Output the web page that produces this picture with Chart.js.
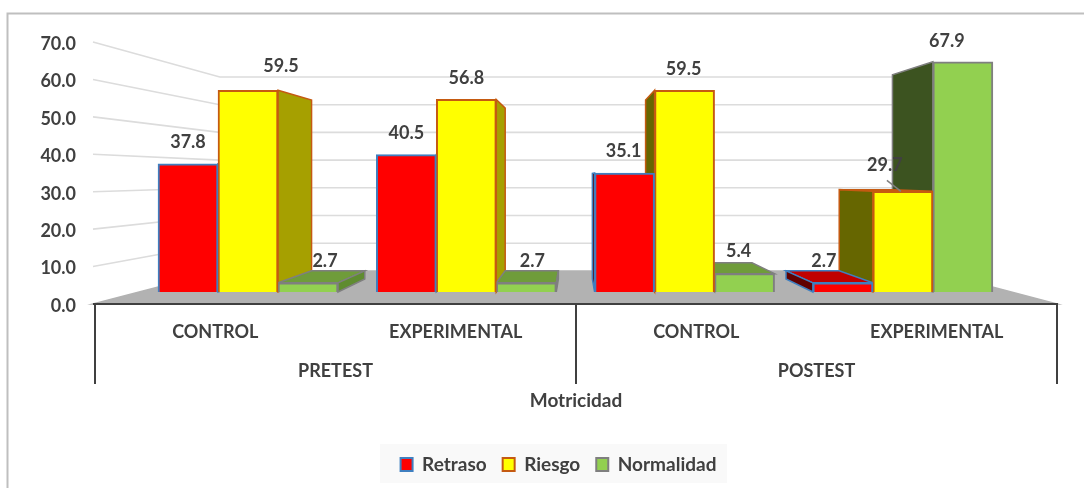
<!DOCTYPE html>
<html lang="es">
<head>
<meta charset="utf-8">
<title>Motricidad</title>
<script src="https://cdn.jsdelivr.net/npm/chart.js@4"></script>
<style>
    html, body { margin: 0; padding: 0; background: #fff; }
    canvas { display: block; }
</style>
</head>
<body>
<canvas id="chart" width="1084" height="488"></canvas>
<script>
const categories = ['CONTROL', 'EXPERIMENTAL', 'CONTROL', 'EXPERIMENTAL'];
const groups = ['PRETEST', 'POSTEST'];
const retraso = [37.8, 40.5, 35.1, 2.7];
const riesgo = [59.5, 56.8, 59.5, 29.7];
const normalidad = [2.7, 2.7, 5.4, 67.9];

const textColor = '#404040';
const font = { family: 'Lato', weight: 'bold', size: 18 };

// perspective of the fake 3D box: everything shrinks towards this point
const vanish = { x: 575, y: 176.7 };
const depth = 0.887;
const wall = 0.74;

// hand placed labels, like in the original (dx, dy from the bar's top centre)
const labelShift = [
    [[0, -22], [33, -24], [17, -22]],
    [[0, -22], [0, -21], [6, -22]],
    [[-1, -22], [-1, -21], [-6, -23]],
    [[-19, -22], [-18, -26], [-16, -21]]
];

function toXY(values) {
    return values.map(function (v, i) { return { x: i, y: v }; });
}

function project(x, y, k) {
    return [vanish.x + (x - vanish.x) * k, vanish.y + (y - vanish.y) * k];
}

function fillPoly(ctx, pts, fill, stroke) {
    ctx.beginPath();
    pts.forEach(function (p, i) {
        if (i === 0) ctx.moveTo(p[0], p[1]); else ctx.lineTo(p[0], p[1]);
    });
    ctx.closePath();
    ctx.fillStyle = fill;
    ctx.fill();
    ctx.lineWidth = 1.5;
    ctx.strokeStyle = stroke;
    ctx.stroke();
}

function drawBox(ctx, bar, ds) {
    const half = bar.width / 2;
    const x0 = bar.x - half, x1 = bar.x + half;
    const top = bar.y, base = bar.base;
    const edge = ds.borderColor;

    // top face only shows below the vanishing point
    if (top > vanish.y) {
        fillPoly(ctx, [[x0, top], [x1, top], project(x1, top, depth), project(x0, top, depth)], ds.topFace, edge);
    }
    if (x1 < vanish.x) {
        fillPoly(ctx, [[x1, top], project(x1, top, depth), project(x1, base, depth), [x1, base]], ds.rightFace, edge);
    } else if (x0 > vanish.x) {
        fillPoly(ctx, [[x0, top], project(x0, top, depth), project(x0, base, depth), [x0, base]], ds.leftFace, edge);
    }
}

const scenePlugin = {
    id: 'scene',
    afterLayout: function (chart) {
        // the legend sits right of the page centre
        chart.legend.left += 30;
        chart.legend.right += 30;
    },
    beforeDraw: function (chart) {
        const ctx = chart.ctx;
        ctx.save();

        // outer frame, only top and left are visible
        ctx.strokeStyle = '#bfbfbf';
        ctx.lineWidth = 2;
        ctx.beginPath();
        ctx.moveTo(7.5, 488);
        ctx.lineTo(7.5, 13.5);
        ctx.lineTo(1084, 13.5);
        ctx.stroke();

        // legend background
        ctx.fillStyle = '#f9f9f9';
        ctx.fillRect(380, 444, 347, 39);
        ctx.restore();
    },
    beforeDatasetsDraw: function (chart) {
        const ctx = chart.ctx;
        const area = chart.chartArea;
        const yScale = chart.scales.y;
        const zero = yScale.getPixelForValue(0);

        ctx.save();

        // floor
        const backL = project(area.left, zero, wall);
        const backR = project(area.right, zero, wall);
        fillPoly(ctx, [[area.left - 2, zero], backL, backR, [area.right, zero]], '#b2b2b2', '#b2b2b2');

        // gridlines: left wall then back wall
        ctx.strokeStyle = '#dcdcdc';
        ctx.lineWidth = 1.6;
        yScale.ticks.forEach(function (t) {
            if (t.value === 0) return;
            const y = yScale.getPixelForValue(t.value);
            const b = project(area.left, y, wall);
            ctx.beginPath();
            ctx.moveTo(area.left - 2, y);
            ctx.lineTo(b[0], b[1]);
            ctx.lineTo(backR[0], b[1]);
            ctx.stroke();
        });

        // axis line and separators
        ctx.strokeStyle = '#404040';
        ctx.lineWidth = 2;
        ctx.beginPath();
        ctx.moveTo(area.left - 2, zero);
        ctx.lineTo(area.right + 1, zero);
        [area.left, (area.left + area.right) / 2, area.right].forEach(function (x) {
            ctx.moveTo(x, zero);
            ctx.lineTo(x, 384);
        });
        ctx.stroke();

        // side faces, furthest from the vanishing point first
        const boxes = [];
        chart.data.datasets.forEach(function (ds, d) {
            chart.getDatasetMeta(d).data.forEach(function (bar) {
                boxes.push({ bar: bar, ds: ds });
            });
        });
        boxes.sort(function (a, b) {
            return Math.abs(b.bar.x - vanish.x) - Math.abs(a.bar.x - vanish.x);
        });
        boxes.forEach(function (b) { drawBox(ctx, b.bar, b.ds); });

        ctx.restore();
    },
    afterDatasetsDraw: function (chart) {
        const ctx = chart.ctx;
        ctx.save();
        ctx.font = font.weight + ' ' + font.size + 'px ' + font.family;
        ctx.fillStyle = textColor;
        ctx.textAlign = 'center';
        ctx.textBaseline = 'middle';
        chart.data.datasets.forEach(function (ds, d) {
            chart.getDatasetMeta(d).data.forEach(function (bar, i) {
                const s = labelShift[i][d];
                ctx.fillText(ds.data[i].y.toFixed(1), bar.x + s[0], bar.y + s[1]);
            });
        });

        // leader line of the moved 29.7 label
        const moved = chart.getDatasetMeta(1).data[3];
        ctx.strokeStyle = '#7f7f7f';
        ctx.lineWidth = 1.5;
        ctx.beginPath();
        ctx.moveTo(moved.x - 16, moved.y - 11);
        ctx.lineTo(moved.x - 2, moved.y);
        ctx.stroke();
        ctx.restore();
    }
};

const ctx = document.getElementById('chart').getContext('2d');
new Chart(ctx, {
    type: 'bar',
    plugins: [scenePlugin],
    data: {
        datasets: [
            {
                label: 'Retraso', data: toXY(retraso), backgroundColor: '#ff0000', borderColor: '#3f7fc0',
                rightFace: '#990000', leftFace: '#600000', topFace: '#c00000'
            },
            {
                label: 'Riesgo', data: toXY(riesgo), backgroundColor: '#ffff00', borderColor: '#c55a11',
                rightFace: '#a6a000', leftFace: '#666600', topFace: '#c9a400'
            },
            {
                label: 'Normalidad', data: toXY(normalidad), backgroundColor: '#92d050', borderColor: '#7f7f7f',
                rightFace: '#5f8c30', leftFace: '#3c5320', topFace: '#6f9c3a'
            }
        ].map(function (ds) {
            return Object.assign(ds, {
                xAxisID: 'xBars', yAxisID: 'yBars', borderWidth: 2, barThickness: 60
            });
        })
    },
    options: {
        responsive: false,
        animation: false,
        layout: { padding: { left: 0, right: 27, top: 42, bottom: 4 } },
        plugins: {
            tooltip: { enabled: false },
            title: { display: false },
            legend: {
                position: 'bottom',
                onClick: null,
                labels: {
                    font: { family: 'Lato', weight: 'bold', size: 19 },
                    color: textColor,
                    boxWidth: 12,
                    boxHeight: 13,
                    padding: 16,
                    generateLabels: function (chart) {
                        return chart.data.datasets.map(function (ds, i) {
                            return {
                                text: ds.label, fillStyle: ds.backgroundColor, strokeStyle: ds.borderColor,
                                lineWidth: 2, datasetIndex: i, fontColor: textColor
                            };
                        });
                    }
                }
            }
        },
        scales: {
            // the bars stand on their own plane, a bit behind the axes
            xBars: { type: 'linear', axis: 'x', display: false, offset: false, min: -0.7009, max: 3.706 },
            yBars: { type: 'linear', axis: 'y', display: false, min: -3.54, max: 73.74 },
            y: {
                type: 'linear',
                position: 'left',
                min: 0,
                max: 70,
                grid: { display: false },
                border: { display: false },
                ticks: {
                    stepSize: 10,
                    padding: 11,
                    labelOffset: 2,
                    font: font,
                    color: textColor,
                    callback: function (v) { return v.toFixed(1); }
                },
                afterFit: function (scale) { scale.width = 95; }
            },
            x: {
                type: 'category',
                position: 'bottom',
                weight: 1,
                labels: categories,
                offset: true,
                grid: { display: false },
                border: { display: false },
                ticks: { padding: 9, font: font, color: textColor, autoSkip: false, maxRotation: 0 },
                afterFit: function (scale) { scale.height = 39; }
            },
            xGroup: {
                type: 'category',
                axis: 'x',
                position: 'bottom',
                weight: 2,
                labels: groups,
                offset: true,
                grid: { display: false },
                border: { display: false },
                ticks: { padding: 9, font: font, color: textColor, autoSkip: false, maxRotation: 0 },
                title: {
                    display: true,
                    text: 'Motricidad',
                    font: { family: 'Lato', weight: 'bold', size: 19 },
                    color: textColor,
                    padding: { top: 0, bottom: 27 }
                },
                afterFit: function (scale) { scale.height = 96; }
            }
        }
    }
});
</script>
</body>
</html>
